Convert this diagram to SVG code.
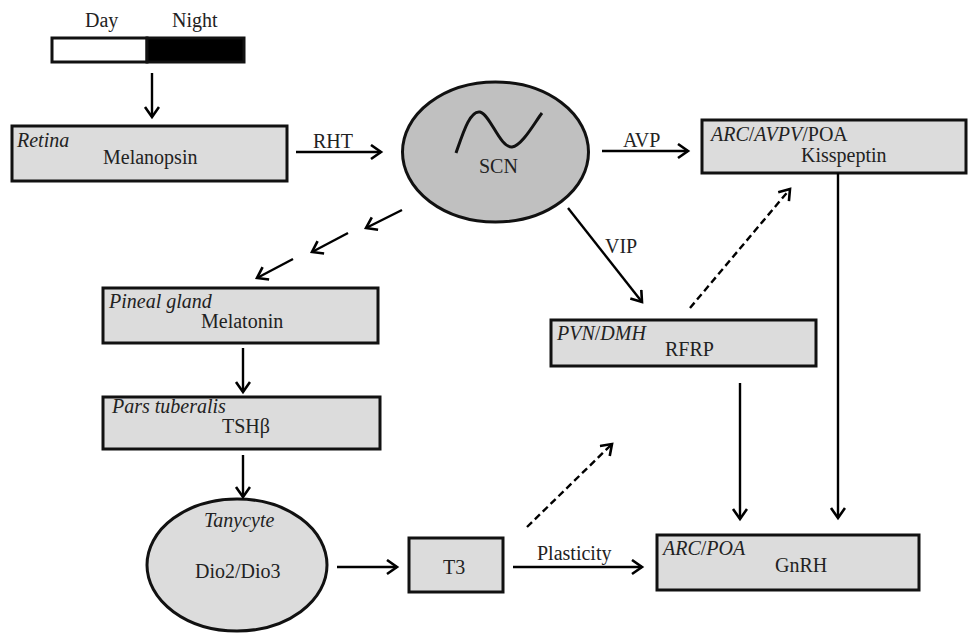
<svg xmlns="http://www.w3.org/2000/svg" width="969" height="633" viewBox="0 0 969 633">
<defs>
<marker id="ah" markerUnits="userSpaceOnUse" markerWidth="16" markerHeight="18" refX="12" refY="8" orient="auto">
<path d="M2,1 L12,8 L2,15" fill="none" stroke="#000" stroke-width="2.6" stroke-linejoin="miter"/>
</marker>
</defs>
<style>
text{font-family:"Liberation Serif","Times New Roman",Times,"Noto Serif","DejaVu Serif",serif;font-size:20px;fill:#222}
.i{font-style:italic}
.box{fill:#dcdcdc;stroke:#111;stroke-width:3}
.ln{stroke:#000;stroke-width:2.4;fill:none;marker-end:url(#ah)}
.dash{stroke-dasharray:7,4}
</style>
<rect width="969" height="633" fill="#fff"/>

<g id="daynight">
<rect x="52" y="38" width="95" height="24" fill="#fff" stroke="#111" stroke-width="3"/>
<rect x="147" y="38" width="97" height="24" fill="#000" stroke="#111" stroke-width="3"/>
<text x="85" y="27">Day</text>
<text x="172" y="27">Night</text>
</g>

<g id="retina">
<rect class="box" x="12" y="126" width="275" height="55"/>
<text x="17" y="147" class="i">Retina</text>
<text x="103" y="164">Melanopsin</text>
</g>

<g id="scn">
<ellipse cx="495.5" cy="152" rx="93" ry="70" fill="#c0c0c0" stroke="#111" stroke-width="3"/>
<path d="M456,153 C463,133 470,110 480,112 C490,114 500,148 512,147 C522,146 535,122 542,113" fill="none" stroke="#111" stroke-width="3"/>
<text x="479" y="173">SCN</text>
</g>

<g id="kisspeptin">
<rect class="box" x="702" y="120" width="264" height="53"/>
<text x="711" y="141"><tspan class="i">ARC</tspan>/<tspan class="i">AVPV</tspan>/POA</text>
<text x="801" y="162">Kisspeptin</text>
</g>

<g id="pineal">
<rect class="box" x="103" y="288" width="275" height="55"/>
<text x="109" y="308" class="i">Pineal gland</text>
<text x="201" y="328">Melatonin</text>
</g>

<g id="pars">
<rect class="box" x="103" y="397" width="277" height="52"/>
<text x="112" y="413" class="i">Pars tuberalis</text>
<text x="222" y="433">TSHβ</text>
</g>

<g id="rfrp">
<rect class="box" x="551" y="320" width="265" height="46"/>
<text x="557" y="340"><tspan class="i">PVN</tspan>/<tspan class="i">DMH</tspan></text>
<text x="665" y="356">RFRP</text>
</g>

<g id="tanycyte">
<ellipse cx="237" cy="565" rx="90" ry="66" fill="#dcdcdc" stroke="#111" stroke-width="3"/>
<text x="204" y="527" class="i">Tanycyte</text>
<text x="195" y="578">Dio2/Dio3</text>
</g>

<g id="t3">
<rect class="box" x="409" y="538" width="94" height="54"/>
<text x="443" y="574">T3</text>
</g>

<g id="gnrh">
<rect class="box" x="657" y="535" width="262" height="55"/>
<text x="663" y="555"><tspan class="i">ARC</tspan>/<tspan class="i">POA</tspan></text>
<text x="775" y="572">GnRH</text>
</g>

<g id="connectors">
<line class="ln" x1="152" y1="73" x2="152" y2="117"/>
<line class="ln" x1="296" y1="152" x2="381" y2="152"/>
<text x="313" y="148">RHT</text>
<line class="ln" x1="602" y1="151" x2="688" y2="151"/>
<text x="623" y="147">AVP</text>
<line class="ln" x1="402" y1="210" x2="366" y2="228"/>
<line class="ln" x1="348" y1="233" x2="312" y2="252"/>
<line class="ln" x1="293" y1="259" x2="257" y2="278"/>
<line class="ln" x1="568" y1="208" x2="642" y2="302"/>
<text x="605" y="253">VIP</text>
<line class="ln dash" x1="690" y1="308" x2="790" y2="189"/>
<line class="ln" x1="838" y1="173" x2="838" y2="518"/>
<line class="ln" x1="740" y1="383" x2="740" y2="519"/>
<line class="ln" x1="243" y1="348" x2="243" y2="392"/>
<line class="ln" x1="243" y1="455" x2="243" y2="497"/>
<line class="ln" x1="337" y1="567" x2="397" y2="567"/>
<line class="ln dash" x1="527" y1="527" x2="612" y2="444"/>
<line class="ln" x1="513" y1="567" x2="642" y2="567"/>
<text x="537" y="560">Plasticity</text>
</g>
</svg>
